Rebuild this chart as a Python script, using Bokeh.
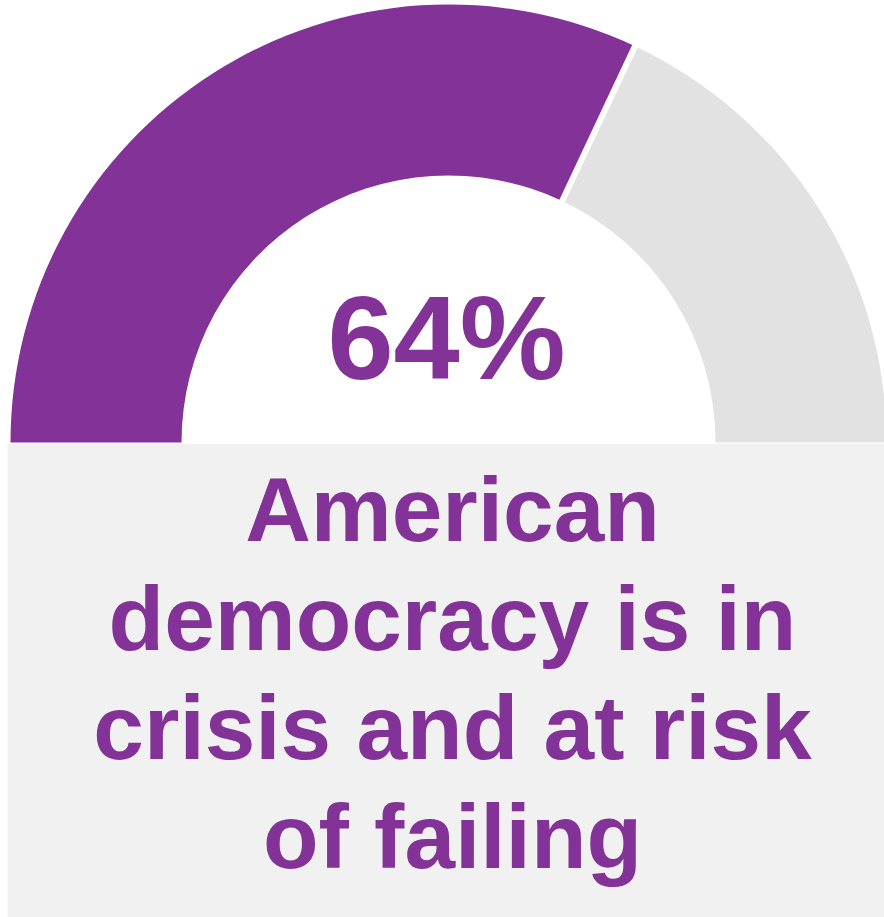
import math
from bokeh.plotting import figure
from bokeh.models import Range1d, ColumnDataSource
from bokeh.core.properties import value
from bokeh.embed import file_html
from bokeh.resources import INLINE

# ---- data ----
categories = ["In crisis / at risk of failing", "Other"]
shares = [64, 36]
headline = "64%"
caption_lines = ["American", "democracy is in", "crisis and at risk", "of failing"]
colors = ["#833297", "#E2E2E2"]

# ---- layout (pixels) ----
W, H = 884, 917
CX, CY_PX = 448, 442
R_OUT, R_IN = 438, 267
BOX_L, BOX_R, BOX_T = 7, 884, 443.5
PURPLE = colors[0]
FONT = "Liberation Sans"
BASE_SHIFT = 0.38  # renderer offset of alphabetic baseline, in em

def py(v):
    return H - v

p = figure(width=W, height=H, output_backend="svg", toolbar_location=None,
           x_range=Range1d(0, W), y_range=Range1d(0, H), min_border=0,
           background_fill_color="white", border_fill_color="white")
p.axis.visible = False
p.grid.visible = False
p.outline_line_color = None

# gauge: half donut, values mapped to 180 degrees, filled from the left
total = sum(shares)
starts, ends = [], []
acc = 0.0
for s in shares:
    a0 = math.pi - acc / total * math.pi
    acc += s
    a1 = math.pi - acc / total * math.pi
    starts.append(a1)
    ends.append(a0)

src = ColumnDataSource(dict(cat=categories, val=shares, start=starts, end=ends, color=colors))
p.annular_wedge(x=CX, y=py(CY_PX), inner_radius=R_IN, outer_radius=R_OUT,
                start_angle="start", end_angle="end", fill_color="color",
                line_color=None, source=src)

# white separators between slices
sep_angles = starts[:-1]
p.ray(x=[CX] * len(sep_angles), y=[py(CY_PX)] * len(sep_angles), angle=sep_angles,
      length=R_OUT + 10, line_color="white", line_width=6)

# caption box
p.quad(left=BOX_L, right=BOX_R, top=py(BOX_T), bottom=0, fill_color="#F1F1F1", line_color=None)

# headline
hs = 119
p.text(x=[446], y=[py(382 - BASE_SHIFT * hs)], text=[headline], text_font=value(FONT),
       text_font_style="bold", text_font_size=f"{hs}px", text_color=PURPLE,
       text_align="center", text_baseline="alphabetic")

# caption
cs = 91
baselines = [544, 653, 762, 871]
p.text(x=[452] * len(caption_lines), y=[py(b - BASE_SHIFT * cs) for b in baselines],
       text=caption_lines, text_font=value(FONT), text_font_style="bold",
       text_font_size=f"{cs}px", text_color=PURPLE, text_align="center",
       text_baseline="alphabetic")

open("out.html", "w").write(file_html(p, INLINE))
